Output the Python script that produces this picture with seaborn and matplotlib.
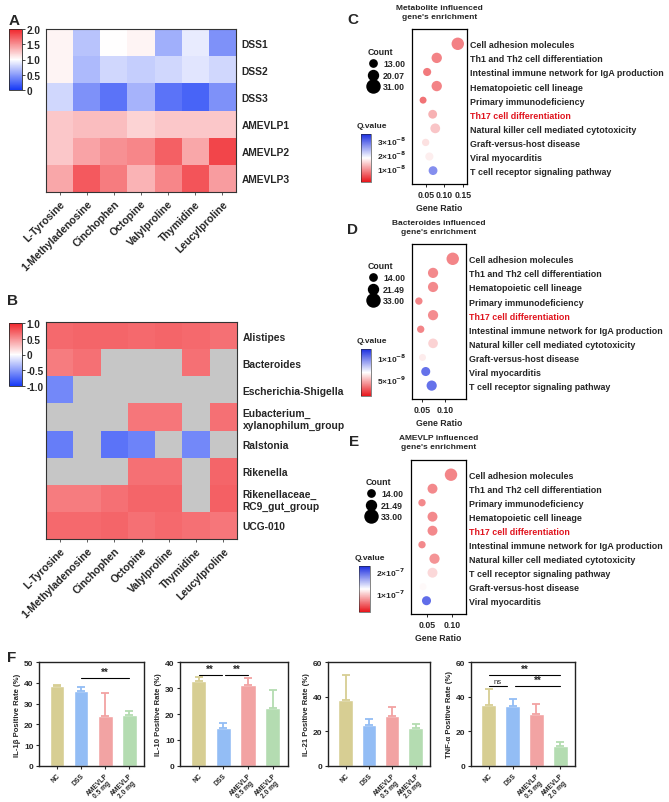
import numpy as np
import pandas as pd
import matplotlib
matplotlib.use('Agg')
import matplotlib.pyplot as plt
import seaborn as sns
from matplotlib.colors import LinearSegmentedColormap, Normalize
from matplotlib.lines import Line2D
import matplotlib.cm as cm

sns.set_theme(style='white')
plt.rcParams['font.family'] = ['Liberation Sans', 'DejaVu Sans']
plt.rcParams['font.weight'] = 'bold'
plt.rcParams['axes.labelweight'] = 'bold'
plt.rcParams['axes.titleweight'] = 'bold'
plt.rcParams['mathtext.default'] = 'bf'

# ---------------- DATA ----------------
metabolites = ['L-Tyrosine', '1-Methyladenosine', 'Cinchophen', 'Octopine',
               'Valylproline', 'Thymidine', 'Leucylproline']
samples_A = ['DSS1', 'DSS2', 'DSS3', 'AMEVLP1', 'AMEVLP2', 'AMEVLP3']
dss1 = [1.05, 0.70, 1.00, 1.05, 0.60, 0.90, 0.45]
dss2 = [1.05, 0.65, 0.80, 0.75, 0.80, 0.87, 0.80]
dss3 = [0.80, 0.45, 0.30, 0.62, 0.30, 0.22, 0.45]
amevlp1 = [1.25, 1.30, 1.30, 1.20, 1.25, 1.25, 1.25]
amevlp2 = [1.25, 1.42, 1.50, 1.55, 1.72, 1.40, 1.85]
amevlp3 = [1.40, 1.75, 1.60, 1.35, 1.55, 1.78, 1.45]

genera = ['Alistipes', 'Bacteroides', 'Escherichia-Shigella',
          'Eubacterium_\nxylanophilum_group', 'Ralstonia', 'Rikenella',
          'Rikenellaceae_\nRC9_gut_group', 'UCG-010']
nan = np.nan
r_alistipes = [0.68, 0.70, 0.70, 0.68, 0.70, 0.68, 0.65]
r_bacteroides = [0.60, 0.65, nan, nan, nan, 0.65, nan]
r_escherichia = [-0.60, nan, nan, nan, nan, nan, nan]
r_eubacterium = [nan, nan, nan, 0.62, 0.62, nan, 0.65]
r_ralstonia = [-0.65, nan, -0.70, -0.62, nan, -0.60, nan]
r_rikenella = [nan, nan, nan, 0.65, 0.65, nan, 0.70]
r_rikenellaceae = [0.60, 0.60, 0.65, 0.70, 0.70, nan, 0.72]
r_ucg010 = [0.68, 0.68, 0.70, 0.65, 0.68, 0.65, 0.62]

# Enrichment C
path_C = ['Cell adhesion molecules', 'Th1 and Th2 cell differentiation',
          'Intestinal immune network for IgA production', 'Hematopoietic cell lineage',
          'Primary immunodeficiency', 'Th17 cell differentiation',
          'Natural killer cell mediated cytotoxicity', 'Graft-versus-host disease',
          'Viral myocarditis', 'T cell receptor signaling pathway']
ratio_C = [0.136, 0.079, 0.053, 0.079, 0.042, 0.068, 0.075, 0.049, 0.059, 0.069]
count_C = [31, 23, 16, 23, 13, 18, 21, 14, 16, 18]
q_C = [0.80e-8, 0.82e-8, 0.75e-8, 0.82e-8, 0.70e-8, 1.15e-8, 1.3e-8, 1.5e-8, 1.6e-8, 2.65e-8]

# Enrichment D
path_D = ['Cell adhesion molecules', 'Th1 and Th2 cell differentiation',
          'Hematopoietic cell lineage', 'Primary immunodeficiency',
          'Th17 cell differentiation', 'Intestinal immune network for IgA production',
          'Natural killer cell mediated cytotoxicity', 'Graft-versus-host disease',
          'Viral myocarditis', 'T cell receptor signaling pathway']
ratio_D = [0.117, 0.074, 0.074, 0.043, 0.074, 0.047, 0.074, 0.051, 0.058, 0.071]
count_D = [33, 24, 24, 15, 24, 15, 22, 14, 20, 24]
q_D = [3.5e-9, 3.6e-9, 3.6e-9, 3.5e-9, 3.7e-9, 3.5e-9, 5.3e-9, 5.9e-9, 1.0e-8, 1.0e-8]

# Enrichment E
path_E = ['Cell adhesion molecules', 'Th1 and Th2 cell differentiation',
          'Primary immunodeficiency', 'Hematopoietic cell lineage',
          'Th17 cell differentiation', 'Intestinal immune network for IgA production',
          'Natural killer cell mediated cytotoxicity', 'T cell receptor signaling pathway',
          'Graft-versus-host disease', 'Viral myocarditis']
ratio_E = [0.098, 0.061, 0.040, 0.061, 0.061, 0.040, 0.065, 0.061, 0.042, 0.049]
count_E = [33, 23, 15, 23, 23, 15, 24, 23, 14, 20]
q_E = [6.3e-8, 6.5e-8, 6.5e-8, 6.5e-8, 6.5e-8, 6.5e-8, 7.0e-8, 1.0e-7, 1.15e-7, 1.9e-7]

# Panel F
groups = ['NC', 'DSS', 'AMEVLP\n0.5 mg', 'AMEVLP\n2.0 mg']
il1b_mean = [38.5, 36.2, 24.2, 24.5]
il1b_err = [0.5, 1.8, 10.7, 2.0]
il10_mean = [32.7, 14.5, 31.0, 22.3]
il10_err = [1.5, 2.0, 3.0, 6.8]
il21_mean = [38.0, 23.7, 28.7, 21.8]
il21_err = [14.5, 3.3, 5.2, 2.7]
tnf_mean = [35.3, 34.7, 30.0, 11.5]
tnf_err = [9.0, 3.8, 5.7, 2.5]

# ---------------- LAYOUT ----------------
W, H = 669, 803
fig = plt.figure(figsize=(W / 100, H / 100), dpi=100)


def rect(x0, y0, x1, y1):
    return [x0 / W, 1 - y1 / H, (x1 - x0) / W, (y1 - y0) / H]


def ftext(x, y, s, **kw):
    fig.text(x / W, 1 - y / H, s, **kw)


hm_cmap = LinearSegmentedColormap.from_list('hm', ['#1538f5', '#ffffff', '#f0242a'])
q_cmap = LinearSegmentedColormap.from_list('q', ['#e8151b', '#ffffff', '#1a2de0'])

ROWLBL = 7.4
COLLBL = 7.6


def style_heatmap(ax, cax, ticks, ticklabels):
    ax.yaxis.tick_right()
    ax.set_yticklabels(ax.get_yticklabels(), rotation=0, fontsize=ROWLBL, fontweight='bold')
    ax.set_xticklabels(ax.get_xticklabels(), rotation=45, ha='right',
                       rotation_mode='anchor', fontsize=COLLBL, fontweight='bold')
    ax.tick_params(axis='x', bottom=True, length=2.5, width=0.6, color='#444', pad=2)
    ax.tick_params(axis='y', right=False, left=False, length=0, pad=4)
    ax.set_xlabel('')
    ax.set_ylabel('')
    for sp in ax.spines.values():
        sp.set_visible(True)
        sp.set_color('#333333')
        sp.set_linewidth(0.8)
    cb = ax.collections[0].colorbar
    cb.set_ticks(ticks)
    cb.set_ticklabels(ticklabels)
    for t in cax.get_yticklabels():
        t.set_fontsize(7.2)
        t.set_fontweight('bold')
    cax.tick_params(length=2, width=0.6, pad=1)
    cb.outline.set_linewidth(0.6)


# Panel A
dfA = pd.DataFrame([dss1, dss2, dss3, amevlp1, amevlp2, amevlp3],
                   index=samples_A, columns=metabolites)
axA = fig.add_axes(rect(46, 30, 236, 193))
caxA = fig.add_axes(rect(9, 30, 22, 91))
sns.heatmap(dfA, ax=axA, cmap=hm_cmap, vmin=0, vmax=2, cbar_ax=caxA, linewidths=0)
style_heatmap(axA, caxA, [0, 0.5, 1.0, 1.5, 2.0], ['0', '0.5', '1.0', '1.5', '2.0'])

# Panel B
dfB = pd.DataFrame([r_alistipes, r_bacteroides, r_escherichia, r_eubacterium,
                    r_ralstonia, r_rikenella, r_rikenellaceae, r_ucg010],
                   index=genera, columns=metabolites)
axB = fig.add_axes(rect(46, 323, 237, 540))
axB.set_facecolor('#c6c6c6')
caxB = fig.add_axes(rect(9, 324, 22, 387))
sns.heatmap(dfB, ax=axB, cmap=hm_cmap, vmin=-1, vmax=1, cbar_ax=caxB, linewidths=0)
style_heatmap(axB, caxB, [-1, -0.5, 0, 0.5, 1.0], ['-1.0', '-0.5', '0', '0.5', '1.0'])

ftext(14, 21, 'A', fontsize=11, fontweight='bold', ha='center', va='center')
ftext(13, 301, 'B', fontsize=11, fontweight='bold', ha='center', va='center')

SMIN, SMAX = 25, 80


# Enrichment panels
def enrich(paths, ratio, count, q, box, cbox, xlim, xticks, qnorm, qticks, qlabels,
           cnorm, leg_labels, leg_xy, title, title_y, letter, letter_xy):
    ax = fig.add_axes(rect(*box))
    df = pd.DataFrame({'pathway': paths, 'ratio': ratio, 'count': count, 'q': q})
    sns.scatterplot(data=df, x='ratio', y='pathway', hue='q', palette=q_cmap,
                    hue_norm=qnorm, size='count', sizes=(SMIN, SMAX), size_norm=cnorm,
                    legend=False, ax=ax, edgecolor='none', linewidth=0)
    n = len(paths)
    ax.set_ylim(n - 1 + 0.95, -1.05)
    ax.set_xlim(*xlim)
    ax.set_xticks(xticks)
    ax.set_xticklabels([f'{t:.2f}' for t in xticks], fontsize=6.3, fontweight='bold')
    ax.yaxis.tick_right()
    ax.set_yticks(range(n))
    ax.set_yticklabels(paths, fontsize=6.4, fontweight='bold')
    for tl in ax.get_yticklabels():
        if tl.get_text().startswith('Th17'):
            tl.set_color('#e0141e')
    ax.tick_params(axis='y', length=0, pad=2.5)
    ax.tick_params(axis='x', bottom=True, length=2, width=0.7, pad=2)
    ax.set_xlabel('Gene Ratio', fontsize=6.3, fontweight='bold', labelpad=3)
    ax.set_ylabel('')
    for sp in ax.spines.values():
        sp.set_visible(True)
        sp.set_color('black')
        sp.set_linewidth(0.9)
    # Q colorbar
    cax = fig.add_axes(rect(*cbox))
    cb = fig.colorbar(cm.ScalarMappable(norm=qnorm, cmap=q_cmap), cax=cax)
    cb.set_ticks(qticks)
    cb.set_ticklabels(qlabels)
    cax.tick_params(length=0, labelsize=6, pad=4)
    for t in cax.get_yticklabels():
        t.set_fontweight('bold')
    cb.outline.set_linewidth(0.4)
    cax.set_title('Q.value', fontsize=6, fontweight='bold', loc='left', pad=5, x=-0.4)
    # Count legend
    handles = []
    for lab in leg_labels:
        c = float(lab)
        s = SMIN + (c - cnorm[0]) / (cnorm[1] - cnorm[0]) * (SMAX - SMIN)
        handles.append(Line2D([], [], marker='o', linestyle='none', color='black',
                              markersize=np.sqrt(s) * 1.05))
    leg = fig.legend(handles, leg_labels, title='Count', loc='upper left',
                     bbox_to_anchor=(leg_xy[0] / W, 1 - leg_xy[1] / H),
                     frameon=False, fontsize=6.3, title_fontsize=6.3,
                     handletextpad=0.6, labelspacing=0.3, borderpad=0,
                     handlelength=1.2)
    leg._legend_box.align = 'left'
    for t in leg.get_texts():
        t.set_fontweight('bold')
    leg.get_title().set_fontweight('bold')
    ftext((box[0] + box[2]) / 2 + 0, title_y, title, fontsize=6, fontweight='bold',
          ha='center', va='center', linespacing=1.3)
    ftext(letter_xy[0], letter_xy[1], letter, fontsize=11, fontweight='bold',
          ha='center', va='center')
    return ax


enrich(path_C, ratio_C, count_C, q_C, (412, 30, 467, 185), (361, 135, 371, 183),
       (0.012, 0.161), [0.05, 0.10, 0.15], Normalize(0, 3.45e-8),
       [1e-8, 2e-8, 3e-8], ['1×10$^{-8}$', '2×10$^{-8}$', '3×10$^{-8}$'],
       (13, 31), ['13.00', '20.07', '31.00'], (363, 44),
       "Metabolite influenced\ngene's enrichment", 13, 'C', (353, 20))

enrich(path_D, ratio_D, count_D, q_D, (412, 245, 466, 400), (361, 350, 371, 397),
       (0.028, 0.146), [0.05, 0.10], Normalize(0.9e-9, 1.18e-8),
       [5e-9, 1e-8], ['5×10$^{-9}$', '1×10$^{-8}$'],
       (14, 33), ['14.00', '21.49', '33.00'], (363, 258),
       "Bacteroides influenced\ngene's enrichment", 228, 'D', (353, 230))

enrich(path_E, ratio_E, count_E, q_E, (411, 461, 466, 615), (359, 567, 370, 613),
       (0.018, 0.128), [0.05, 0.10], Normalize(1.3e-8, 2.22e-7),
       [1e-7, 2e-7], ['1×10$^{-7}$', '2×10$^{-7}$'],
       (14, 33), ['14.00', '21.49', '33.00'], (361, 474),
       "AMEVLP influenced\ngene's enrichment", 443, 'E', (354, 442))

# Panel F
bar_colors = ['#d7ce93', '#93bdf5', '#f2a3a3', '#b4dcb1']


def barpanel(box, means, errs, ylim, yticks, ylabel, sigs):
    ax = fig.add_axes(rect(*box))
    sns.barplot(x=groups, y=means, hue=groups, palette=bar_colors, legend=False,
                ax=ax, width=0.62, saturation=1, errorbar=None)
    for i, (m, e) in enumerate(zip(means, errs)):
        ax.errorbar(i, m, yerr=[[0], [e]], color=bar_colors[i], capsize=3.2,
                    elinewidth=1.3, capthick=1.3, fmt='none')
    ax.set_xlim(-0.75, 3.62)
    ax.set_ylim(*ylim)
    ax.set_yticks(yticks)
    ax.set_yticklabels([str(t) for t in yticks], fontsize=6, fontweight='bold')
    ax.set_xticks(range(4))
    ax.set_xticklabels(groups, rotation=45, ha='right', rotation_mode='anchor',
                       fontsize=4.8, fontweight='bold', linespacing=0.95,
                       multialignment='center')
    ax.set_ylabel(ylabel, fontsize=5.6, fontweight='bold', labelpad=2)
    ax.tick_params(axis='both', length=2.5, width=0.8, pad=1.5, left=True, bottom=True)
    for sp in ax.spines.values():
        sp.set_visible(True)
        sp.set_color('#222222')
        sp.set_linewidth(1.0)
    for (x1, x2, y, txt) in sigs:
        ax.plot([x1, x2], [y, y], color='black', lw=0.8)
        fs = 7 if txt == '**' else 5.5
        ax.text((x1 + x2) / 2, y + (ylim[1] - ylim[0]) * 0.01, txt, ha='center',
                va='bottom', fontsize=fs, fontweight='bold' if txt == '**' else 'normal')
    return ax


barpanel((39, 663, 144, 767), il1b_mean, il1b_err, (0, 50), [0, 10, 20, 30, 40, 50],
         'IL-1β Positive Rate (%)', [(1, 3, 42.3, '**')])
barpanel((180, 663, 288, 767), il10_mean, il10_err, (0, 40), [0, 10, 20, 30, 40],
         'IL-10 Positive Rate (%)', [(0, 0.93, 35.0, '**'), (1.07, 2.0, 35.0, '**')])
barpanel((328, 663, 430, 767), il21_mean, il21_err, (0, 60), [0, 20, 40, 60],
         'IL-21 Positive Rate (%)', [])
barpanel((471, 663, 575, 767), tnf_mean, tnf_err, (0, 60), [0, 20, 40, 60],
         'TNF-α Positive Rate (%)', [(0, 3, 52.7, '**'), (0, 0.75, 46.3, 'ns'),
                                     (1.1, 3, 46.3, '**')])

ftext(12, 658, 'F', fontsize=11, fontweight='bold', ha='center', va='center')

fig.savefig('out.png', dpi=100, facecolor='white')
